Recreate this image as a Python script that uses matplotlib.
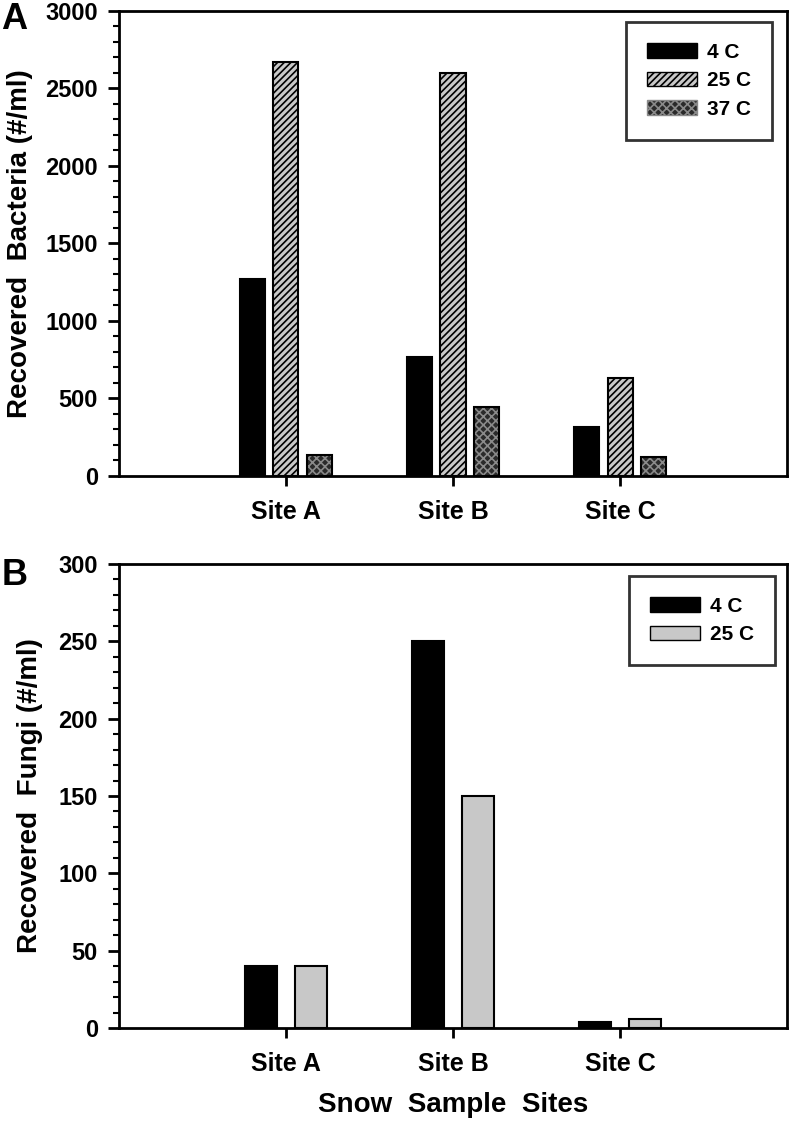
import matplotlib as mpl
import matplotlib.pyplot as plt
from matplotlib.patches import Patch
from matplotlib.ticker import MultipleLocator
import numpy as np

mpl.rcParams['font.family'] = ['Liberation Sans', 'DejaVu Sans']
mpl.rcParams['font.weight'] = 'bold'
mpl.rcParams['hatch.linewidth'] = 1.2

sites = ['Site A', 'Site B', 'Site C']

# panel A: bacteria (#/ml)
bact_4c = [1270, 770, 315]
bact_25c = [2670, 2600, 630]
bact_37c = [138, 442, 125]

# panel B: fungi (#/ml)
fungi_4c = [40, 250, 4]
fungi_25c = [40, 150, 6]

x = np.arange(1, len(sites) + 1)

fig = plt.figure(figsize=(7.92, 11.22), dpi=100)
axA = fig.add_axes([0.150, 0.5758, 0.844, 0.4144])
axB = fig.add_axes([0.150, 0.0838, 0.844, 0.4135])

lw = 1.5
leg_kw = dict(fontsize=15, frameon=True, fancybox=False, edgecolor='black',
              borderpad=1.0, borderaxespad=0, handlelength=2.4, handleheight=0.7,
              labelspacing=0.45, handletextpad=0.5)

# ---- panel A
w = 0.15
axA.bar(x - 0.2, bact_4c, w, color='black', edgecolor='black', lw=lw, zorder=2)
axA.bar(x, bact_25c, w, color='#c8c8c8', edgecolor='black', hatch='/////', lw=lw, zorder=2)
# crosshatch drawn in grey, outline drawn separately in black
axA.bar(x + 0.2, bact_37c, w, color='#2a2a2a', edgecolor='#8a8a8a', hatch='xxxx', lw=0, zorder=2)
axA.bar(x + 0.2, bact_37c, w, fill=False, edgecolor='black', lw=lw, zorder=3)

axA.set_ylim(0, 3000)
axA.yaxis.set_major_locator(MultipleLocator(500))
axA.yaxis.set_minor_locator(MultipleLocator(100))
axA.set_ylabel('Recovered  Bacteria (#/ml)', fontsize=20, fontweight='bold', labelpad=9)

hA = [Patch(facecolor='black', edgecolor='black', label='4 C'),
      Patch(facecolor='#c8c8c8', edgecolor='black', hatch='/////', label='25 C'),
      Patch(facecolor='#2a2a2a', edgecolor='#8a8a8a', hatch='xxxx', label='37 C')]
legA = axA.legend(handles=hA, loc='upper right', bbox_to_anchor=(0.9775, 0.976), **leg_kw)
legA.get_frame().set_linewidth(2)

# ---- panel B
wb = 0.19
axB.bar(x - 0.15, fungi_4c, wb, color='black', edgecolor='black', lw=lw, zorder=2)
axB.bar(x + 0.15, fungi_25c, wb, color='#c8c8c8', edgecolor='black', lw=lw, zorder=2)

axB.set_ylim(0, 300)
axB.yaxis.set_major_locator(MultipleLocator(50))
axB.yaxis.set_minor_locator(MultipleLocator(10))
axB.set_ylabel('Recovered  Fungi (#/ml)', fontsize=20, fontweight='bold', labelpad=11)
axB.set_xlabel('Snow  Sample  Sites', fontsize=20, fontweight='bold', labelpad=12)

hB = [Patch(facecolor='black', edgecolor='black', label='4 C'),
      Patch(facecolor='#c8c8c8', edgecolor='black', label='25 C')]
legB = axB.legend(handles=hB, loc='upper right', bbox_to_anchor=(0.982, 0.974), **leg_kw)
legB.get_frame().set_linewidth(2)

for ax in (axA, axB):
    ax.set_xlim(0, 4)
    ax.set_xticks(x)
    ax.set_xticklabels(sites, fontsize=18, fontweight='bold')
    for s in ax.spines.values():
        s.set_linewidth(2)
    ax.tick_params(axis='y', which='major', direction='out', length=8, width=2,
                   labelsize=17, pad=7)
    ax.tick_params(axis='y', which='minor', direction='out', length=4, width=1.5)
    ax.tick_params(axis='x', direction='out', length=7, width=2, pad=10)
    for t in ax.get_yticklabels():
        t.set_fontweight('bold')

fig.text(0.002, 0.983, 'A', fontsize=26, fontweight='bold', va='center')
fig.text(0.002, 0.4875, 'B', fontsize=26, fontweight='bold', va='center')

fig.savefig('out.png', dpi=100)
